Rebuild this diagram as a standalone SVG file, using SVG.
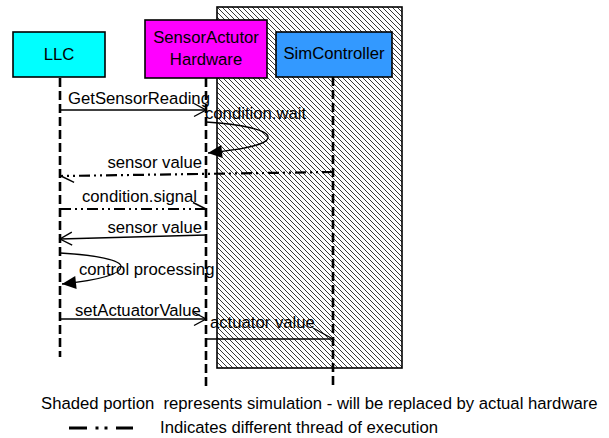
<svg xmlns="http://www.w3.org/2000/svg" width="609" height="438" viewBox="0 0 609 438">
<style>
text{font-family:"Liberation Sans",Arial,sans-serif;font-size:16.7px;fill:#000}
.box{stroke:#000;stroke-width:1.6}
.life{stroke:#000;stroke-width:2.6;stroke-dasharray:9,4;fill:none}
.msg{stroke:#000;stroke-width:1.3;fill:none}
.thread{stroke:#000;stroke-width:2.2;fill:none;stroke-dasharray:11,4,2,4,2,4}
.mid{text-anchor:middle}
.end{text-anchor:end}
</style>
<defs>
<pattern id="hatch" patternUnits="userSpaceOnUse" width="5" height="5">
<path d="M0,0 L5,5 M-1,4 L1,6 M4,-1 L6,1" stroke="#222" stroke-width="0.9"/>
</pattern>
<marker id="open" markerUnits="userSpaceOnUse" viewBox="-16 -10 20 20" refX="0" refY="0" markerWidth="20" markerHeight="20" orient="auto">
<path d="M-12,-6.5 L0,0 L-12,6.5" fill="none" stroke="#000" stroke-width="1.4"/>
</marker>
<marker id="half" markerUnits="userSpaceOnUse" viewBox="-20 -12 24 24" refX="0" refY="0" markerWidth="24" markerHeight="24" orient="auto">
<path d="M-13,-6.5 L0,0" fill="none" stroke="#000" stroke-width="1.4"/>
</marker>
<marker id="filled" markerUnits="userSpaceOnUse" viewBox="-16 -10 20 20" refX="0" refY="0" markerWidth="20" markerHeight="20" orient="auto">
<path d="M-14,-6.5 L0,0 L-14,6.5 Z" fill="#000"/>
</marker>
</defs>
<rect id="simulation" x="217" y="7" width="185" height="361" fill="url(#hatch)" stroke="#000" stroke-width="1.6"/>
<g id="llc">
<rect class="box" x="13" y="32" width="92" height="45" fill="#00FFFF"/>
<text class="mid" x="59" y="60">LLC</text>
</g>
<g id="sensoractutor">
<rect class="box" x="145" y="20" width="122" height="58" fill="#FF00FF"/>
<text class="mid" x="206" y="43">SensorActutor</text>
<text class="mid" x="206" y="65">Hardware</text>
</g>
<g id="simcontroller">
<rect class="box" x="276" y="32" width="116" height="45" fill="#3399FF"/>
<text class="mid" x="334" y="59">SimController</text>
</g>
<g id="lifelines">
<line class="life" x1="60" y1="78" x2="60" y2="357"/>
<line class="life" x1="206" y1="78" x2="206" y2="386"/>
<line class="life" x1="333" y1="77" x2="333" y2="386"/>
</g>
<g id="connectors">
<line class="msg" x1="60" y1="110" x2="206" y2="110" marker-end="url(#open)"/>
<path class="msg" d="M206,122 C240,124 270,130 268,138 C266,146 236,150 208,153" marker-end="url(#filled)"/>
<line class="thread" x1="333" y1="172" x2="61" y2="176" marker-end="url(#half)"/>
<line class="thread" x1="60" y1="209" x2="206" y2="209" marker-end="url(#half)"/>
<line class="msg" x1="206" y1="235" x2="60" y2="239" marker-end="url(#open)"/>
<path class="msg" d="M60,253 C95,255 122,260 121,267 C120,276 90,281 62,284" marker-end="url(#filled)"/>
<line class="msg" x1="60" y1="319" x2="206" y2="319" marker-end="url(#open)"/>
<line class="msg" x1="206" y1="339" x2="333" y2="339"/>
<line class="msg" x1="313" y1="328" x2="333" y2="339"/>
</g>
<g id="labels">
<text x="68" y="104">GetSensorReading</text>
<text x="205" y="119">condition.wait</text>
<text class="end" x="202" y="168">sensor value</text>
<text x="82" y="202">condition.signal</text>
<text class="end" x="202" y="233">sensor value</text>
<text x="79" y="275">control processing</text>
<text x="75" y="316">setActuatorValue</text>
<text x="210" y="328">actuator value</text>
</g>
<g id="legend">
<text x="41" y="409">Shaded portion&#160; represents simulation - will be replaced by actual hardware</text>
<line x1="69" y1="428" x2="133" y2="428" stroke="#000" stroke-width="3" stroke-dasharray="18,8.5,3,6,3,8.5,18"/>
<text x="160" y="433">Indicates different thread of execution</text>
</g>
</svg>
